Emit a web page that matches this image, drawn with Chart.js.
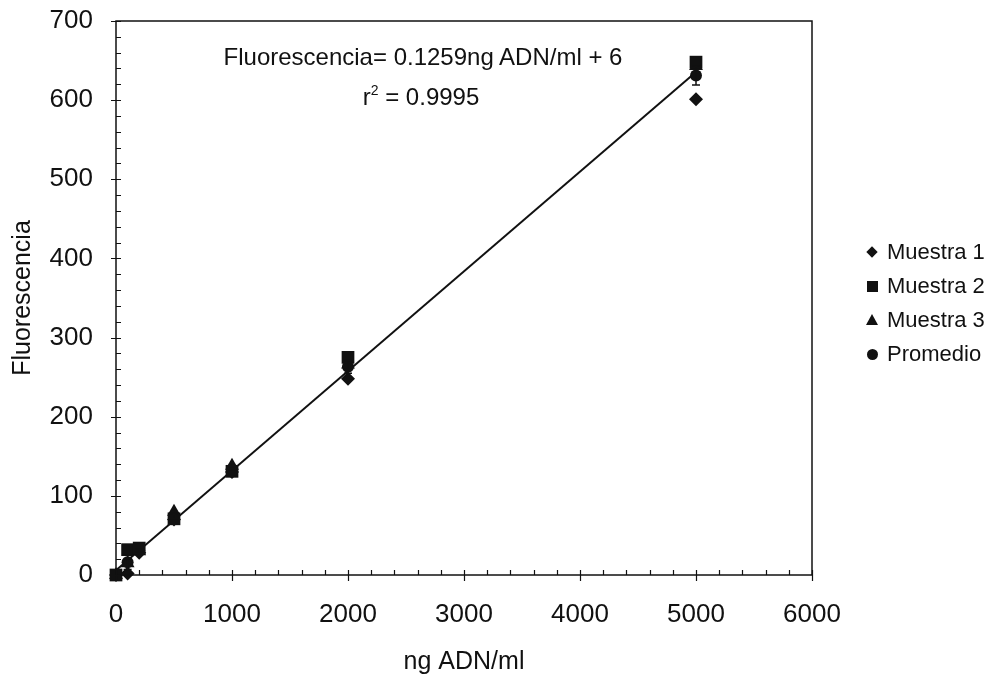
<!DOCTYPE html>
<html>
<head>
<meta charset="utf-8">
<script src="https://cdn.jsdelivr.net/npm/chart.js@4.4.0/dist/chart.umd.min.js"></script>
<style>
  html, body { margin: 0; padding: 0; background: #fff; }
  #wrap { position: relative; width: 1001px; height: 679px; font-family: "Liberation Sans", Arial, sans-serif; color: #111; }
  #c { position: absolute; left: 0; top: 0; }
  .txt { position: absolute; white-space: nowrap; font-size: 24px; line-height: 28px; transform: translate(-50%, -50%); }
  .txt sup { font-size: 14px; vertical-align: 10px; line-height: 0; }
  #legend { position: absolute; left: 860px; top: 235px; font-size: 22px; }
  .li { position: relative; height: 34px; line-height: 34px; padding-left: 27px; }
  .mk { position: absolute; background: #111; }
  .m-dia { width: 8px; height: 8px; left: 8px; top: 13px; transform: rotate(45deg); }
  .m-sq { width: 11px; height: 11px; left: 7px; top: 12px; }
  .m-tri { width: 0; height: 0; background: none; left: 6px; top: 11px; border-left: 6px solid transparent; border-right: 6px solid transparent; border-bottom: 11px solid #111; }
  .m-cir { width: 11px; height: 11px; left: 7px; top: 12px; border-radius: 50%; }
</style>
</head>
<body>
<div id="wrap">
  <canvas id="c" width="1001" height="679"></canvas>
  <div class="txt" style="left:423px; top:57px;">Fluorescencia= 0.1259ng ADN/ml + 6</div>
  <div class="txt" style="left:421px; top:97px;">r<sup>2</sup> = 0.9995</div>
  <div id="legend">
    <div class="li"><span class="mk m-dia"></span>Muestra 1</div>
    <div class="li"><span class="mk m-sq"></span>Muestra 2</div>
    <div class="li"><span class="mk m-tri"></span>Muestra 3</div>
    <div class="li"><span class="mk m-cir"></span>Promedio</div>
  </div>
</div>
<script>
// ---- data ----
const concentrations = [0, 100, 200, 500, 1000, 2000, 5000];
const muestra1 = [0, 2, 28, 70, 130, 248, 601];
const muestra2 = [0, 32, 34, 71, 131, 275, 648];
const muestra3 = [0, 15, 30, 80, 138, 266, 643];
const promedio = [0, 16, 31, 74, 133, 263, 631];
const promedioErr = [0, 9, 2, 3, 2, 8, 12];
const trendX = [0, 5000];
const trendY = [6, 635.5];
const xTicks = [0, 1000, 2000, 3000, 4000, 5000, 6000];
const yTicks = [0, 100, 200, 300, 400, 500, 600, 700];

const pts = (xs, ys) => xs.map((x, i) => ({x: x, y: ys[i]}));
const INK = '#111';

const axesPlugin = {
  id: 'axesPlugin',
  afterDatasetsDraw(chart) {
    const {ctx, chartArea: a, scales: {x, y}} = chart;
    ctx.save();
    ctx.strokeStyle = INK;
    ctx.lineWidth = 1.5;
    ctx.strokeRect(a.left, a.top, a.right - a.left, a.bottom - a.top);
    ctx.lineWidth = 1.2;
    ctx.beginPath();
    for (let v = 0; v <= 700; v += 20) {
      const py = Math.round(y.getPixelForValue(v)) + 0.5;
      if (v % 100 === 0) { ctx.moveTo(a.left - 5, py); ctx.lineTo(a.left + 5, py); }
      else { ctx.moveTo(a.left, py); ctx.lineTo(a.left + 5, py); }
    }
    for (let v = 0; v <= 6000; v += 200) {
      const px = Math.round(x.getPixelForValue(v)) + 0.5;
      if (v % 1000 === 0) { ctx.moveTo(px, a.bottom - 5); ctx.lineTo(px, a.bottom + 6); }
      else { ctx.moveTo(px, a.bottom - 5); ctx.lineTo(px, a.bottom); }
    }
    ctx.stroke();
    ctx.lineWidth = 1.5;
    ctx.beginPath();
    concentrations.forEach((c, i) => {
      const e = promedioErr[i];
      if (!e) return;
      const px = x.getPixelForValue(c);
      const p1 = y.getPixelForValue(promedio[i] - e);
      const p2 = y.getPixelForValue(promedio[i] + e);
      ctx.moveTo(px, p1); ctx.lineTo(px, p2);
      ctx.moveTo(px - 4, p1); ctx.lineTo(px + 4, p1);
      ctx.moveTo(px - 4, p2); ctx.lineTo(px + 4, p2);
    });
    ctx.stroke();
    ctx.restore();
  }
};

new Chart(document.getElementById('c'), {
  type: 'scatter',
  data: {
    datasets: [
      { label: 'Tendencia', type: 'line', data: pts(trendX, trendY), borderColor: INK, borderWidth: 2,
        pointRadius: 0, fill: false, order: 5 },
      { label: 'Promedio', data: pts(concentrations, promedio), pointStyle: 'circle', pointRadius: 6,
        backgroundColor: INK, borderColor: INK, borderWidth: 0, order: 4, clip: false },
      { label: 'Muestra 3', data: pts(concentrations, muestra3), pointStyle: 'triangle', pointRadius: 8,
        backgroundColor: INK, borderColor: INK, borderWidth: 0, order: 3, clip: false },
      { label: 'Muestra 1', data: pts(concentrations, muestra1), pointStyle: 'rectRot', pointRadius: 7,
        backgroundColor: INK, borderColor: INK, borderWidth: 0, order: 2, clip: false },
      { label: 'Muestra 2', data: pts(concentrations, muestra2), pointStyle: 'rect', pointRadius: 9,
        backgroundColor: INK, borderColor: INK, borderWidth: 0, order: 1, clip: false }
    ]
  },
  options: {
    responsive: false,
    animation: false,
    layout: { padding: { left: 0, top: 21, right: 189, bottom: 0 } },
    plugins: { legend: { display: false }, tooltip: { enabled: false } },
    scales: {
      x: {
        type: 'linear', min: 0, max: 6000,
        afterBuildTicks: s => { s.ticks = xTicks.map(v => ({value: v})); },
        afterFit: s => { s.height = 104; s.paddingLeft = 0; s.paddingRight = 0; },
        grid: { display: false, drawTicks: false },
        border: { display: false },
        ticks: { padding: 24, color: INK, font: { family: 'Liberation Sans', size: 26 }, maxRotation: 0,
          callback: v => String(v) },
        title: { display: true, text: 'ng ADN/ml', color: INK, font: { family: 'Liberation Sans', size: 25, lineHeight: 1.2 },
          padding: { top: 0, bottom: 2 } }
      },
      y: {
        type: 'linear', min: 0, max: 700,
        afterBuildTicks: s => { s.ticks = yTicks.map(v => ({value: v})); },
        afterFit: s => { s.width = 116; s.paddingTop = 0; s.paddingBottom = 0; },
        grid: { display: false, drawTicks: false },
        border: { display: false },
        ticks: { padding: 23, color: INK, font: { family: 'Liberation Sans', size: 26 }, callback: v => String(v) },
        title: { display: true, text: 'Fluorescencia', color: INK, font: { family: 'Liberation Sans', size: 25, lineHeight: 1.2 },
          padding: { top: 8, bottom: 0 } }
      }
    }
  },
  plugins: [axesPlugin]
});
</script>
</body>
</html>
